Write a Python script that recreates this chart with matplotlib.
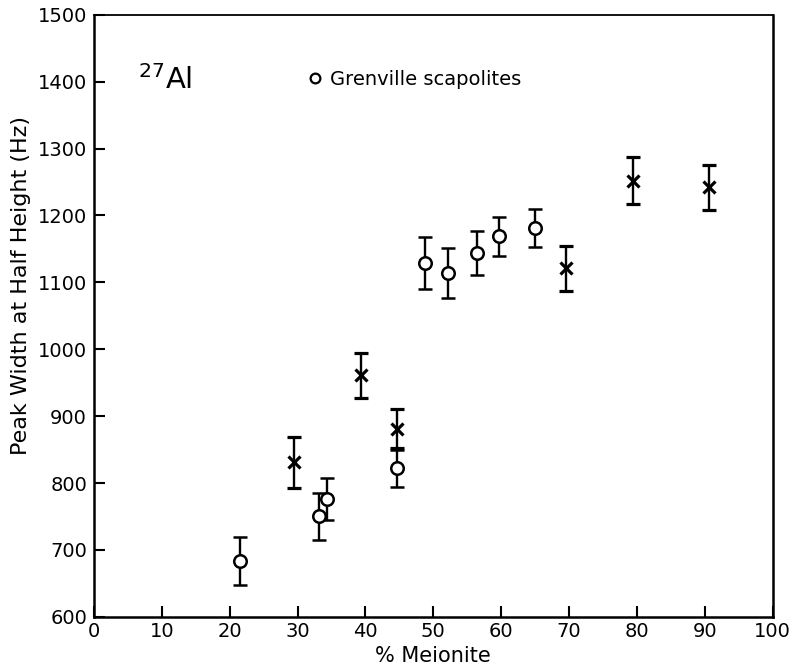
"""27Al peak width vs % meionite for scapolites."""

import matplotlib.pyplot as plt
from matplotlib.lines import Line2D

plt.rcParams['font.family'] = ['DejaVu Sans']

# Grenville scapolites (open circles)
grenville_x = [21.5, 33.2, 34.3, 44.6, 48.7, 52.1, 56.5, 59.6, 64.9]
grenville_y = [683, 750, 776, 822, 1129, 1114, 1144, 1169, 1181]
grenville_err = [36, 35, 31, 28, 39, 38, 33, 29, 28]

# other scapolites (crosses)
other_x = [29.4, 39.3, 44.7, 69.6, 79.4, 90.6]
other_y = [831, 961, 881, 1121, 1252, 1242]
other_err = [38, 34, 29, 34, 35, 34]

x_ticks = list(range(0, 101, 10))
y_ticks = list(range(600, 1501, 100))

fig = plt.figure(figsize=(7.93, 6.69), dpi=100)
ax = fig.add_axes([0.1185, 0.078, 0.856, 0.9])

ax.errorbar(grenville_x, grenville_y, yerr=grenville_err, fmt='o',
            mfc='white', mec='black', mew=1.8, ms=9, color='black',
            ecolor='black', elinewidth=1.7, capsize=5, capthick=1.7,
            zorder=3)
ax.errorbar(other_x, other_y, yerr=other_err, fmt='x',
            mec='black', mew=2.3, ms=8, color='black',
            ecolor='black', elinewidth=1.7, capsize=5, capthick=1.7,
            zorder=3)

ax.set_xlim(0, 100)
ax.set_ylim(600, 1500)
ax.set_xticks(x_ticks)
ax.set_yticks(y_ticks)
ax.set_xticklabels([str(t) for t in x_ticks])
ax.set_yticklabels([str(t) for t in y_ticks])
ax.tick_params(direction='in', length=8, width=1.5, labelsize=14,
               top=False, right=False)
ax.tick_params(axis='y', pad=5)
ax.tick_params(axis='x', pad=4)

for side in ['left', 'bottom', 'right']:
    ax.spines[side].set_linewidth(1.8)
ax.spines['top'].set_linewidth(1.3)

ax.set_xlabel('% Meionite', fontsize=15, labelpad=3)
ax.set_ylabel('Peak Width at Half Height (Hz)', fontsize=16)
ax.yaxis.set_label_coords(-0.093, 0.55)

ax.text(6.5, 1403, r'$^{27}$Al', fontsize=21, va='center', ha='left')

handle = Line2D([], [], linestyle='none', marker='o', mfc='white',
                mec='black', mew=1.6, ms=7)
ax.legend([handle], ['Grenville scapolites'], loc='center left',
          bbox_to_anchor=(0.285, 0.893), frameon=False, fontsize=14,
          handletextpad=0.3, handlelength=1.0)

fig.savefig('out.png', dpi=100)
